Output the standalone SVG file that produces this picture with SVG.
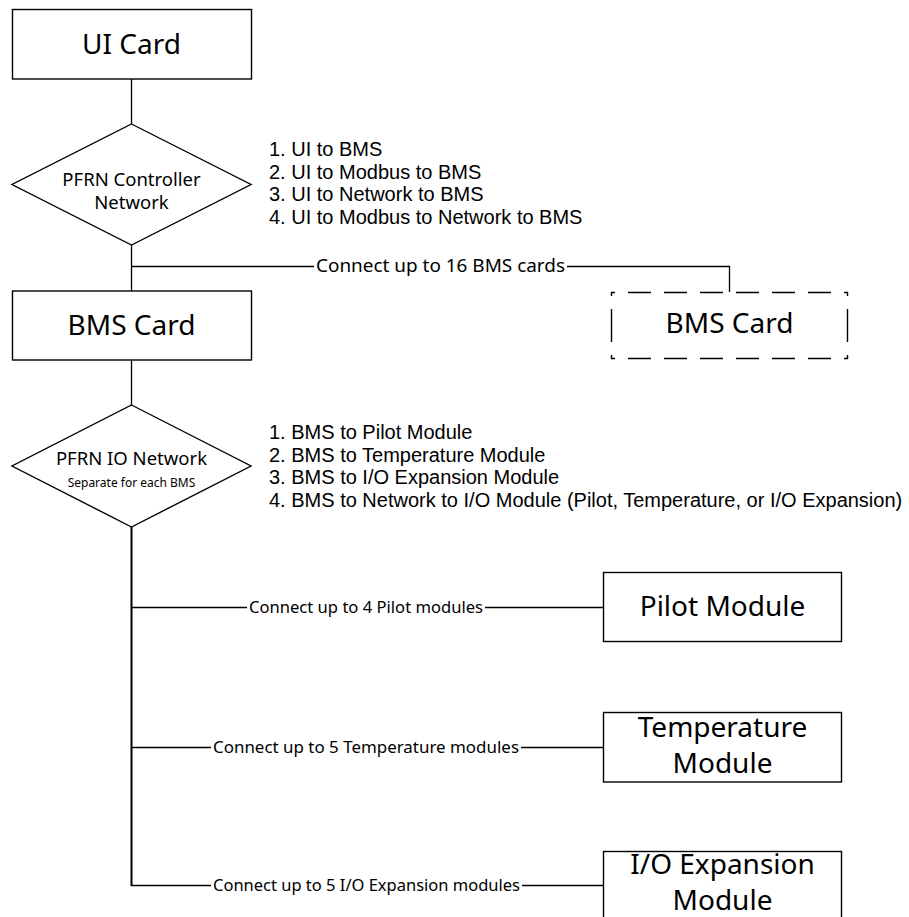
<svg xmlns="http://www.w3.org/2000/svg" width="909" height="917" viewBox="0 0 909 917">
<style>
.box{fill:#fff;stroke:#000;stroke-width:1.4}
.dash{fill:none;stroke:#000;stroke-width:1.4}
.ln{fill:none;stroke:#000;stroke-width:1.3}
.trunk{fill:none;stroke:#000;stroke-width:2}
text{font-family:"Noto Sans","Open Sans","DejaVu Sans",sans-serif;fill:#000}
.big{font-size:28px;text-anchor:middle}
.mid{font-size:18.5px;text-anchor:middle}
.list{font-family:"Liberation Sans",Arial,sans-serif;font-size:20px}
.lbl{font-size:17.5px}
.lbl2{font-size:16.5px}
.small{font-size:12px;text-anchor:middle}
</style>
<rect width="909" height="917" fill="#fff"/>
<g id="connectors">
<path class="ln" d="M131.5 79V124"/>
<path class="ln" d="M131.5 245V291"/>
<path class="ln" d="M131.5 266.5H314"/>
<path class="ln" d="M567 266.5H729.5V292"/>
<path class="ln" d="M131.5 360V405"/>
<path class="trunk" d="M131.5 527V886"/>
<path class="ln" d="M131 607.5H247"/>
<path class="ln" d="M485 607.5H603"/>
<path class="ln" d="M131 747.5H211"/>
<path class="ln" d="M521 747.5H603"/>
<path class="ln" d="M131 885.5H211"/>
<path class="ln" d="M522 885.5H603"/>
<text class="lbl" x="316" y="272" textLength="249" lengthAdjust="spacingAndGlyphs">Connect up to 16 BMS cards</text>
<text class="lbl2" x="249" y="613" textLength="234" lengthAdjust="spacingAndGlyphs">Connect up to 4 Pilot modules</text>
<text class="lbl2" x="213" y="753" textLength="306" lengthAdjust="spacingAndGlyphs">Connect up to 5 Temperature modules</text>
<text class="lbl2" x="213" y="891" textLength="307" lengthAdjust="spacingAndGlyphs">Connect up to 5 I/O Expansion modules</text>
</g>
<g id="ui-card">
<rect class="box" x="12.5" y="9.5" width="239" height="69.5"/>
<text class="big" x="131.5" y="54">UI Card</text>
</g>
<g id="pfrn-controller-network">
<polygon class="box" points="131.5,124 251,184.5 131.5,245 12,184.5"/>
<text class="mid" x="131.5" y="186">PFRN Controller</text>
<text class="mid" x="131.5" y="208.5">Network</text>
</g>
<g id="controller-paths">
<text class="list" x="269" y="156">1. UI to BMS</text>
<text class="list" x="269" y="178.5">2. UI to Modbus to BMS</text>
<text class="list" x="269" y="201">3. UI to Network to BMS</text>
<text class="list" x="269" y="223.5">4. UI to Modbus to Network to BMS</text>
</g>
<g id="bms-card">
<rect class="box" x="12.5" y="291" width="239" height="69"/>
<text class="big" x="131.5" y="335">BMS Card</text>
</g>
<g id="bms-card-extra">
<rect x="611" y="292" width="237" height="66" fill="#fff"/>
<line class="dash" x1="611" y1="292.5" x2="848" y2="292.5" stroke-dasharray="23 13" stroke-dashoffset="19"/>
<line class="dash" x1="611" y1="358.5" x2="848" y2="358.5" stroke-dasharray="23 13" stroke-dashoffset="19"/>
<line class="dash" x1="611.5" y1="292" x2="611.5" y2="359" stroke-dasharray="33 13" stroke-dashoffset="29"/>
<line class="dash" x1="847.5" y1="292" x2="847.5" y2="359" stroke-dasharray="33 13" stroke-dashoffset="29"/>
<text class="big" x="729.5" y="333">BMS Card</text>
</g>
<g id="pfrn-io-network">
<polygon class="box" points="131.5,405 251,466 131.5,527 12,466"/>
<text class="mid" x="131.5" y="465">PFRN IO Network</text>
<text class="small" x="131.5" y="487">Separate for each BMS</text>
</g>
<g id="io-paths">
<text class="list" x="269" y="439">1. BMS to Pilot Module</text>
<text class="list" x="269" y="461.5">2. BMS to Temperature Module</text>
<text class="list" x="269" y="484">3. BMS to I/O Expansion Module</text>
<text class="list" x="269" y="506.5">4. BMS to Network to I/O Module (Pilot, Temperature, or I/O Expansion)</text>
</g>
<g id="pilot-module">
<rect class="box" x="603.5" y="572.5" width="238" height="69"/>
<text class="big" x="722.5" y="615.5">Pilot Module</text>
</g>
<g id="temperature-module">
<rect class="box" x="603.5" y="712.5" width="238" height="69.5"/>
<text class="big" x="722.5" y="737">Temperature</text>
<text class="big" x="722.5" y="773">Module</text>
</g>
<g id="io-expansion-module">
<rect class="box" x="603.5" y="851.5" width="238" height="75"/>
<text class="big" x="722.5" y="874">I/O Expansion</text>
<text class="big" x="722.5" y="910">Module</text>
</g>
</svg>
